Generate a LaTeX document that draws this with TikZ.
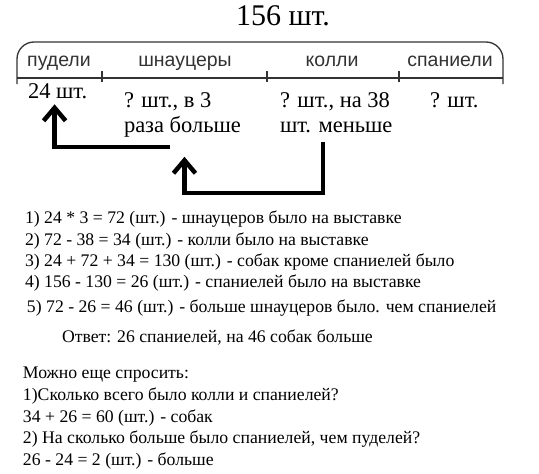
\documentclass[tikz,border=0pt]{standalone}
\usepackage{fontspec}
\setmainfont{Liberation Serif}
\newfontfamily\arialfont{Liberation Sans}
\usetikzlibrary{arrows.meta}
\begin{document}
\begin{tikzpicture}[x=1pt,y=-1pt,
  every node/.style={inner sep=0pt,outer sep=0pt},
  txt/.style={anchor=base west,font=\fontsize{17.7}{21}\selectfont},
  lbl/.style={anchor=base,text=black!80,font=\arialfont\fontsize{19.5}{22}\selectfont},
  val/.style={anchor=base west,align=left,font=\fontsize{22.5}{25}\selectfont},
  bracket/.style={line width=1.3pt,draw=black!80},
  arr/.style={line width=4.5pt,-{Straight Barb[length=13pt,width=22pt]}}]
\useasboundingbox (0,0) rectangle (539,474);
% title
\node[anchor=base,font=\fontsize{30}{32}\selectfont] (title) at (283,25) {156 шт.};
% brace
\draw[bracket,rounded corners=17pt] (17,84) -- (17,42) -- (503,42) -- (503,84);
\draw[bracket] (17,78) -- (503,78);
\foreach \x in {102,267,399} \draw[bracket] (\x,71) -- (\x,82);
\node[lbl] (l1) at (59,66) {пудели};
\node[lbl] (l2) at (185,66) {шнауцеры};
\node[lbl] (l3) at (332,66) {колли};
\node[lbl] (l4) at (450,66) {спаниели};
% values
\node[val] (A) at (28,98) {24 шт.};
\node[val] (B) at (124,132) {? шт., в 3\\раза больше};
\node[val] (C) at (280,132) {? шт., на 38\\шт. меньше};
\node[val] (D) at (430,107) {? шт.};
% arrows
\coordinate (b1) at (170,147);
\draw[arr] (b1) -| ([xshift=-3pt,yshift=-6pt]A.south);
\coordinate (c1) at (323,142);
\draw[arr] (c1) -- (323,193) -| ([xshift=2pt,yshift=-20pt]B.south);
% solution
\node[txt] (s1) at (25,223) {1) 24 * 3 = 72 (шт.) - шнауцеров было на выставке};
\node[txt] (s2) at (25,245) {2) 72 - 38 = 34 (шт.) - колли было на выставке};
\node[txt] (s3) at (25,266) {3) 24 + 72 + 34 = 130 (шт.) - собак кроме спаниелей было};
\node[txt] (s4) at (25,287) {4) 156 - 130 = 26 (шт.) - спаниелей было на выставке};
\node[txt] (s5) at (27,312) {5) 72 - 26 = 46 (шт.) - больше шнауцеров было. чем спаниелей};
\node[txt] (ans) at (62,342) {Ответ: 26 спаниелей, на 46 собак больше};
\node[txt] (q0) at (23,378) {Можно еще спросить:};
\node[txt] (q1) at (23,400) {1)Сколько всего было колли и спаниелей?};
\node[txt] (q2) at (23,422) {34 + 26 = 60 (шт.) - собак};
\node[txt] (q3) at (23,443) {2) На сколько больше было спаниелей, чем пуделей?};
\node[txt] (q4) at (23,465) {26 - 24 = 2 (шт.) - больше};
\end{tikzpicture}
\end{document}
